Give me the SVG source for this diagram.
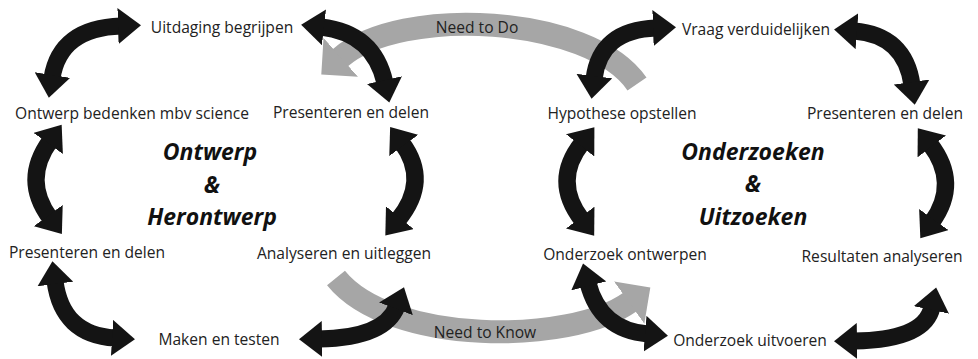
<svg xmlns="http://www.w3.org/2000/svg" width="978" height="359" viewBox="0 0 978 359">
  <style>
    .lbl { font-family: "Open Sans", "Liberation Sans", sans-serif; font-size: 15.6px; fill: #222; text-anchor: middle; }
    .ttl { font-family: "Open Sans", "Liberation Sans", sans-serif; font-size: 23px; font-weight: bold; font-style: italic; fill: #111; text-anchor: middle; }
    .blk { fill: none; stroke: #141414; stroke-width: 17; marker-start: url(#bh); marker-end: url(#bh); }
    .gry { fill: none; stroke: #a6a6a6; stroke-width: 23; marker-end: url(#gh); }
  </style>
  <defs>
    <marker id="bh" markerUnits="userSpaceOnUse" viewBox="0 0 24 36" markerWidth="24" markerHeight="36" refX="3" refY="18" orient="auto-start-reverse">
      <path d="M0,0 L23,18 L0,36 Z" fill="#141414"/>
    </marker>
    <marker id="gh" markerUnits="userSpaceOnUse" viewBox="0 0 27 52" markerWidth="27" markerHeight="52" refX="1" refY="26" orient="auto">
      <path d="M0,0 L26,26 L0,52 Z" fill="#a6a6a6"/>
    </marker>
  </defs>
  <rect width="978" height="359" fill="#fff"/>

  <g id="connectors">
    <!-- gray cross arrows -->
    <path class="gry" d="M637,84 C590,15 400,5 340,58"/>
    <path class="gry" d="M336,278 C390,345 570,345 630,302"/>
    <!-- left cycle -->
    <path class="blk" d="M52,78 Q60,28 121,26"/>
    <path class="blk" d="M50,141 Q22,180 50,218"/>
    <path class="blk" d="M55,281 Q62,335 115,338"/>
    <path class="blk" d="M319,339 Q385,338 397,306"/>
    <path class="blk" d="M402,143 Q430,181 398,220"/>
    <path class="blk" d="M321,27 Q374,33 385,83"/>
    <!-- right cycle -->
    <path class="blk" d="M594,79 Q600,30 656,28"/>
    <path class="blk" d="M854,31 Q905,35 912,85"/>
    <path class="blk" d="M930,144 Q960,183 932,222"/>
    <path class="blk" d="M932,307 Q925,340 854,341"/>
    <path class="blk" d="M582,143 Q552,181 582,220"/>
    <path class="blk" d="M588,283 Q600,330 648,334"/>
  </g>

  <g id="need-to-do"><text class="lbl" x="477" y="33">Need to Do</text></g>
  <g id="need-to-know"><text class="lbl" x="485" y="338">Need to Know</text></g>

  <g id="title-ontwerp">
    <text class="ttl" x="210" y="160">Ontwerp</text>
    <text class="ttl" x="212" y="193">&amp;</text>
    <text class="ttl" x="212" y="225">Herontwerp</text>
  </g>
  <g id="title-onderzoeken">
    <text class="ttl" x="753" y="160">Onderzoeken</text>
    <text class="ttl" x="753" y="192">&amp;</text>
    <text class="ttl" x="753" y="225">Uitzoeken</text>
  </g>

  <g id="uitdaging-begrijpen"><text class="lbl" x="222" y="33">Uitdaging begrijpen</text></g>
  <g id="ontwerp-bedenken"><text class="lbl" x="132" y="119">Ontwerp bedenken mbv science</text></g>
  <g id="presenteren-delen-1"><text class="lbl" x="351" y="118">Presenteren en delen</text></g>
  <g id="presenteren-delen-2"><text class="lbl" x="87" y="258">Presenteren en delen</text></g>
  <g id="analyseren-uitleggen"><text class="lbl" x="344" y="259">Analyseren en uitleggen</text></g>
  <g id="maken-testen"><text class="lbl" x="219" y="345">Maken en testen</text></g>

  <g id="vraag-verduidelijken"><text class="lbl" x="756" y="35">Vraag verduidelijken</text></g>
  <g id="hypothese-opstellen"><text class="lbl" x="622" y="119">Hypothese opstellen</text></g>
  <g id="presenteren-delen-3"><text class="lbl" x="885" y="119">Presenteren en delen</text></g>
  <g id="onderzoek-ontwerpen"><text class="lbl" x="625" y="260">Onderzoek ontwerpen</text></g>
  <g id="resultaten-analyseren"><text class="lbl" x="882" y="262">Resultaten analyseren</text></g>
  <g id="onderzoek-uitvoeren"><text class="lbl" x="750" y="346">Onderzoek uitvoeren</text></g>
</svg>
